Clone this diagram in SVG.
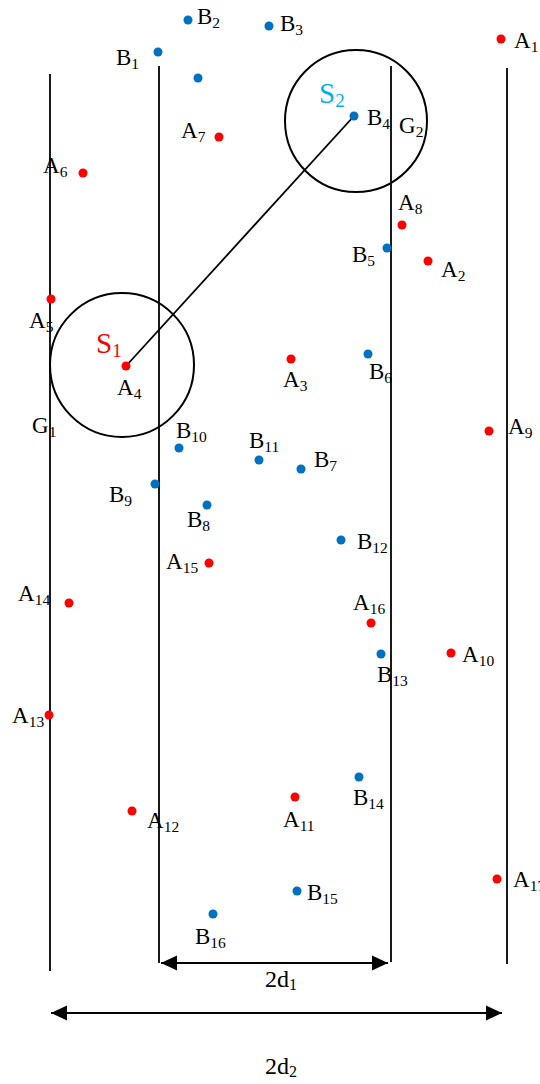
<svg xmlns="http://www.w3.org/2000/svg" width="540" height="1084" viewBox="0 0 540 1084">
<style>
text{font-family:"Liberation Serif","Times New Roman",serif;font-size:23px;fill:#000}
.sub{font-size:15.5px}
.s{font-size:29px}
.ssub{font-size:19px}
.dd{font-size:24px}
.ddsub{font-size:16px}
.a{fill:#ff0000}
.b{fill:#0070c0}
.ln{stroke:#000;stroke-width:1.8;fill:none}
.cir{stroke:#000;stroke-width:2;fill:none}
</style>
<defs>
<marker id="ah" markerUnits="userSpaceOnUse" markerWidth="18" markerHeight="16" refX="16" refY="8" orient="auto-start-reverse">
<path d="M0,0.5 L16,8 L0,15.5 Z" fill="#000"/>
</marker>
</defs>
<rect width="540" height="1084" fill="#fff"/>
<g id="connectors">
<line class="ln" x1="50" y1="74" x2="50" y2="971"/>
<line class="ln" x1="159" y1="66" x2="159" y2="963"/>
<line class="ln" x1="391" y1="66" x2="391" y2="962"/>
<line class="ln" x1="507" y1="68" x2="507" y2="964"/>
<line class="ln" x1="126" y1="366" x2="354" y2="116"/>
<line class="ln" x1="161" y1="963" x2="388" y2="963" stroke-width="2" marker-start="url(#ah)" marker-end="url(#ah)"/>
<line class="ln" x1="51" y1="1013" x2="502" y2="1013" stroke-width="2" marker-start="url(#ah)" marker-end="url(#ah)"/>
</g>
<g id="G1"><circle class="cir" cx="122" cy="365" r="72"/><text x="32" y="433">G<tspan class="sub" dy="4">1</tspan></text></g>
<g id="G2"><circle class="cir" cx="356" cy="121" r="71"/><text x="399" y="133">G<tspan class="sub" dy="4">2</tspan></text></g>
<g id="S1"><text class="s" x="96" y="353" style="fill:#ff0000">S<tspan class="ssub" dy="4">1</tspan></text></g>
<g id="S2"><text class="s" x="319" y="103" style="fill:#00b0f0">S<tspan class="ssub" dy="4">2</tspan></text></g>
<g id="A1"><circle class="a" cx="501" cy="39" r="4.5"/><text x="514" y="48">A<tspan class="sub" dy="4">1</tspan></text></g>
<g id="A2"><circle class="a" cx="428" cy="261" r="4.5"/><text x="441" y="277">A<tspan class="sub" dy="4">2</tspan></text></g>
<g id="A3"><circle class="a" cx="291" cy="359" r="4.5"/><text x="283" y="387">A<tspan class="sub" dy="4">3</tspan></text></g>
<g id="A4"><circle class="a" cx="126" cy="366" r="4.5"/><text x="117" y="395">A<tspan class="sub" dy="4">4</tspan></text></g>
<g id="A5"><circle class="a" cx="51" cy="299" r="4.5"/><text x="29" y="328">A<tspan class="sub" dy="4">5</tspan></text></g>
<g id="A6"><circle class="a" cx="83" cy="173" r="4.5"/><text x="43" y="173">A<tspan class="sub" dy="4">6</tspan></text></g>
<g id="A7"><circle class="a" cx="219" cy="137" r="4.5"/><text x="181" y="138">A<tspan class="sub" dy="4">7</tspan></text></g>
<g id="A8"><circle class="a" cx="402" cy="225" r="4.5"/><text x="398" y="210">A<tspan class="sub" dy="4">8</tspan></text></g>
<g id="A9"><circle class="a" cx="489" cy="431" r="4.5"/><text x="508" y="434">A<tspan class="sub" dy="4">9</tspan></text></g>
<g id="A10"><circle class="a" cx="451" cy="653" r="4.5"/><text x="462" y="662">A<tspan class="sub" dy="4">10</tspan></text></g>
<g id="A11"><circle class="a" cx="295" cy="797" r="4.5"/><text x="283" y="827">A<tspan class="sub" dy="4">11</tspan></text></g>
<g id="A12"><circle class="a" cx="132" cy="811" r="4.5"/><text x="147" y="828">A<tspan class="sub" dy="4">12</tspan></text></g>
<g id="A13"><circle class="a" cx="49" cy="715" r="4.5"/><text x="12" y="723">A<tspan class="sub" dy="4">13</tspan></text></g>
<g id="A14"><circle class="a" cx="69" cy="603" r="4.5"/><text x="18" y="601">A<tspan class="sub" dy="4">14</tspan></text></g>
<g id="A15"><circle class="a" cx="209" cy="563" r="4.5"/><text x="166" y="569">A<tspan class="sub" dy="4">15</tspan></text></g>
<g id="A16"><circle class="a" cx="371" cy="623" r="4.5"/><text x="353" y="610">A<tspan class="sub" dy="4">16</tspan></text></g>
<g id="A17"><circle class="a" cx="497" cy="879" r="4.5"/><text x="513" y="887">A<tspan class="sub" dy="4">17</tspan></text></g>
<g id="B1"><circle class="b" cx="158" cy="52" r="4.5"/><text x="116" y="65">B<tspan class="sub" dy="4">1</tspan></text></g>
<g id="B2"><circle class="b" cx="188" cy="20" r="4.5"/><text x="197" y="24">B<tspan class="sub" dy="4">2</tspan></text></g>
<g id="B3"><circle class="b" cx="269" cy="26" r="4.5"/><text x="280" y="31">B<tspan class="sub" dy="4">3</tspan></text></g>
<g id="Bx"><circle class="b" cx="198" cy="78" r="4.5"/></g>
<g id="B4"><circle class="b" cx="354" cy="116" r="4.5"/><text x="367" y="125">B<tspan class="sub" dy="4">4</tspan></text></g>
<g id="B5"><circle class="b" cx="387" cy="248" r="4.5"/><text x="352" y="262">B<tspan class="sub" dy="4">5</tspan></text></g>
<g id="B6"><circle class="b" cx="368" cy="354" r="4.5"/><text x="369" y="379">B<tspan class="sub" dy="4">6</tspan></text></g>
<g id="B7"><circle class="b" cx="301" cy="469" r="4.5"/><text x="314" y="467">B<tspan class="sub" dy="4">7</tspan></text></g>
<g id="B8"><circle class="b" cx="207" cy="505" r="4.5"/><text x="187" y="527">B<tspan class="sub" dy="4">8</tspan></text></g>
<g id="B9"><circle class="b" cx="155" cy="484" r="4.5"/><text x="109" y="502">B<tspan class="sub" dy="4">9</tspan></text></g>
<g id="B10"><circle class="b" cx="179" cy="448" r="4.5"/><text x="176" y="438">B<tspan class="sub" dy="4">10</tspan></text></g>
<g id="B11"><circle class="b" cx="259" cy="460" r="4.5"/><text x="249" y="448">B<tspan class="sub" dy="4">11</tspan></text></g>
<g id="B12"><circle class="b" cx="341" cy="540" r="4.5"/><text x="357" y="549">B<tspan class="sub" dy="4">12</tspan></text></g>
<g id="B13"><circle class="b" cx="381" cy="654" r="4.5"/><text x="377" y="682">B<tspan class="sub" dy="4">13</tspan></text></g>
<g id="B14"><circle class="b" cx="359" cy="777" r="4.5"/><text x="353" y="805">B<tspan class="sub" dy="4">14</tspan></text></g>
<g id="B15"><circle class="b" cx="297" cy="891" r="4.5"/><text x="307" y="900">B<tspan class="sub" dy="4">15</tspan></text></g>
<g id="B16"><circle class="b" cx="213" cy="914" r="4.5"/><text x="195" y="944">B<tspan class="sub" dy="4">16</tspan></text></g>
<g id="d1"><text class="dd" x="265" y="987">2d<tspan class="ddsub" dy="3">1</tspan></text></g>
<g id="d2"><text class="dd" x="265" y="1074">2d<tspan class="ddsub" dy="3">2</tspan></text></g>
</svg>
